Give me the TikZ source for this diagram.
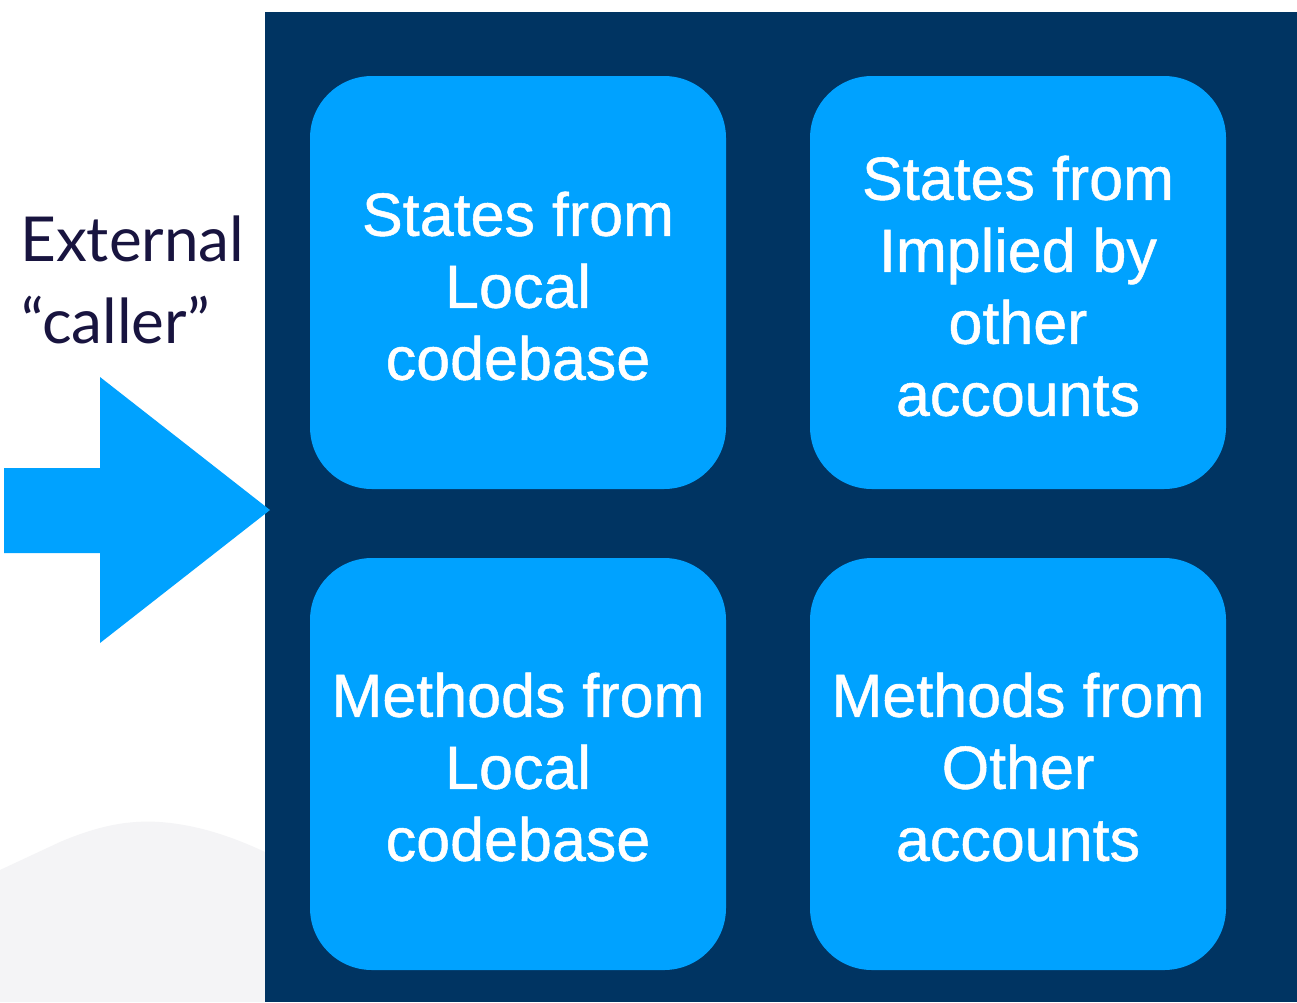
\documentclass[tikz,border=0pt]{standalone}
\usepackage{fontspec}
\setmainfont{Liberation Sans}
\newfontfamily\tilefont{Liberation Sans}[FakeBold=0.8]
\newfontfamily\callerfont{Lato}
\definecolor{navy}{HTML}{003462}
\definecolor{tile}{HTML}{00A2FF}
\definecolor{ink}{HTML}{18143F}
\definecolor{hill}{HTML}{F4F4F6}
\tikzset{
  tilebox/.style={fill=tile, draw=none, rounded corners=62pt, inner sep=0pt},
  tiletext/.style={text=white, align=center, font=\tilefont\fontsize{61}{72}\selectfont},
  callertext/.style={text=ink, anchor=base west, inner sep=0pt, font=\callerfont\fontsize{62}{80}\selectfont}
}
\begin{document}
\begin{tikzpicture}[x=1pt,y=-1pt]
  % canvas
  \fill[white] (0,0) rectangle (1297,1002);
  \useasboundingbox (0,0) rectangle (1297,1002);
  % soft grey hill in the lower left
  \fill[hill] (0,870) -- (60,842) .. controls (100,825) and (130,820) .. (160,822)
    .. controls (200,825) and (235,838) .. (265,852) -- (265,1002) -- (0,1002) -- cycle;
  % dark panel
  \fill[navy] (265,12) rectangle (1297,1002);
  % four tiles
  \fill[tilebox] (310,76) rectangle (726,489);
  \fill[tilebox] (810,76) rectangle (1226,489);
  \fill[tilebox] (310,558) rectangle (726,970);
  \fill[tilebox] (810,558) rectangle (1226,970);
  \node[tiletext] (t1) at (518,286) {States from\\Local\\codebase};
  \node[tiletext] (t2) at (1018,286) {States from\\Implied by\\other\\accounts};
  \node[tiletext] (t3) at (518,767) {Methods from\\Local\\codebase};
  \node[tiletext] (t4) at (1018,767) {Methods from\\Other\\accounts};
  % caller label
  \node[callertext] (ext) at (20,261) {External};
  \node[callertext] (cal) at (21,343) {“caller”};
  % big arrow into the panel
  \fill[tile] (4,468) -- (100,468) -- (100,377) -- (270,510) -- (100,643)
    -- (100,553) -- (4,553) -- cycle;
\end{tikzpicture}
\end{document}
